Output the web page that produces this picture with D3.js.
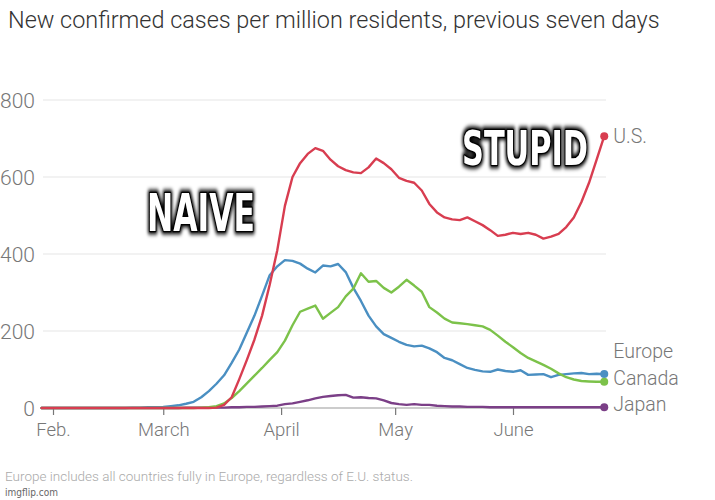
<!DOCTYPE html>
<html><head><meta charset="utf-8">
<script src="https://cdn.jsdelivr.net/npm/d3@7"></script>
<style>body{margin:0;background:#fff;} svg{display:block}</style>
</head><body>
<svg id="c" width="715" height="500"></svg>
<script>
// ---------- DATA ----------
const dates = [
"01-29","01-31","02-02","02-04","02-06","02-08","02-10","02-12","02-14","02-16","02-18","02-20","02-22","02-24","02-26","02-28",
"03-01","03-03","03-05","03-07","03-09","03-11","03-13","03-15","03-17","03-19","03-21","03-23","03-25","03-27","03-29","03-31",
"04-02","04-04","04-06","04-08","04-10","04-12","04-14","04-16","04-18","04-20","04-22","04-24","04-26","04-28","04-30",
"05-02","05-04","05-06","05-08","05-10","05-12","05-14","05-16","05-18","05-20","05-22","05-24","05-26","05-28","05-30",
"06-01","06-03","06-05","06-07","06-09","06-11","06-13","06-15","06-17","06-19","06-21","06-23","06-25"];

const usValues = [
0,0,0,0,0,0,0,0,0,0,0,0,0,0,0,0,
0,0,0,0,0,0,0,1,8,28,75,125,178,240,320,410,
525,600,636,660,675,668,645,628,618,612,610,625,648,636,620,
598,590,585,565,530,508,495,490,488,495,485,475,462,447,450,
455,452,455,450,440,445,452,470,495,535,585,645,706];

const europeValues = [
0,0,0,0,0,0,0,0,0,0,0,0,1,1,2,2,
3,5,7,11,16,28,44,63,85,117,152,196,240,292,345,368,
384,382,375,362,352,370,368,374,353,312,278,240,212,192,182,
172,164,160,162,155,145,130,124,114,104,99,95,94,100,96,
94,98,86,87,88,80,86,88,90,91,88,89,88];

const canadaValues = [
0,0,0,0,0,0,0,0,0,0,0,0,0,0,0,0,
0,0,0,0,0,1,2,5,12,26,44,64,84,104,125,145,
175,215,250,258,266,232,247,262,290,310,350,328,330,312,300,
315,333,318,302,262,248,232,222,220,218,215,212,203,188,172,
158,143,130,121,112,102,90,80,74,70,69,68,68];

const japanValues = [
0,0,0,0,0,0,0,0,0,0,0,0,0,0,0,0,
0,0,0,1,1,1,1,1,1,2,2,3,3,4,5,6,
10,12,16,20,25,29,31,33,34,27,28,26,25,20,13,
10,8,10,8,8,6,5,4,4,3,3,3,2,2,2,
2,2,2,2,2,2,2,2,2,2,2,2,2];

const seriesNames = ["U.S.", "Europe", "Canada", "Japan"];
const seriesColors = ["#d83d50", "#4a8fc2", "#7cc24a", "#7b3f87"];
const yTicks = [0, 200, 400, 600, 800];
const monthTicks = ["02-01", "03-01", "04-01", "05-01", "06-01"];
const monthLabels = ["Feb.", "March", "April", "May", "June"];
const titleText = "New confirmed cases per million residents, previous seven days";
const noteText = "Europe includes all countries fully in Europe, regardless of E.U. status.";
const watermarkText = "imgflip.com";
const memeTexts = ["NAIVE", "STUPID"];

// ---------- DRAW ----------
const parse = d3.timeParse("%Y-%m-%d");
const P = s => parse("2020-" + s);
const svg = d3.select("#c");
const FONT = "Roboto, 'Noto Sans', sans-serif";

const x = d3.scaleTime().domain([P("02-01"), P("06-01")]).range([53, 513]);
const y = d3.scaleLinear().domain([0, 800]).range([408, 100]);
const gridX0 = 43, gridX1 = 606;

// title
const title = svg.append("text").attr("x", 8).attr("y", 28)
  .attr("font-family", FONT).attr("font-weight", 300)
  .attr("font-size", 22).attr("fill", "#333").text(titleText);
{ const w = title.node().getComputedTextLength(); title.attr("font-size", 22 * 652 / w); }

// gridlines
svg.append("g").selectAll("line").data(yTicks.filter(t => t > 0)).join("line")
  .attr("x1", gridX0).attr("x2", gridX1)
  .attr("y1", d => y(d)).attr("y2", d => y(d))
  .attr("stroke", "#e6e6e6").attr("stroke-width", 1.2);

// y labels
svg.append("g").selectAll("text").data(yTicks).join("text")
  .attr("x", 35).attr("y", d => y(d)).attr("dy", "0.36em")
  .attr("text-anchor", "end")
  .attr("font-family", FONT).attr("font-weight", 300)
  .attr("font-size", 21).attr("fill", "#777").text(d => d3.format("d")(d));

// x axis
const xAxis = d3.axisBottom(x).tickValues(monthTicks.map(P))
  .tickFormat((d, i) => monthLabels[i]).tickSize(7).tickPadding(8).tickSizeOuter(0);
const gx = svg.append("g").attr("transform", `translate(0,${y(0)})`).call(xAxis);
gx.select(".domain").remove();
gx.insert("line", ":first-child").attr("x1", gridX0).attr("x2", gridX1)
  .attr("stroke", "#999").attr("stroke-width", 1.2);
gx.selectAll(".tick line").attr("stroke", "#777").attr("stroke-width", 1.2);
gx.selectAll(".tick text").attr("font-family", FONT)
  .attr("font-weight", 300).attr("font-size", 18.5).attr("fill", "#777");

// series
const allValues = [usValues, europeValues, canadaValues, japanValues];
const dateObjs = dates.map(P);
const line = d3.line().x((d, i) => x(dateObjs[i])).y(d => y(d));
const drawOrder = [3, 1, 2, 0];
const gl = svg.append("g");
drawOrder.forEach(k => {
  gl.append("path").attr("d", line(allValues[k])).attr("fill", "none")
    .attr("stroke", seriesColors[k]).attr("stroke-width", 2.4)
    .attr("stroke-linejoin", "round").attr("stroke-linecap", "round");
});
const lastDate = dateObjs[dateObjs.length - 1];
drawOrder.forEach(k => {
  const v = allValues[k][allValues[k].length - 1];
  gl.append("circle").attr("cx", x(lastDate)).attr("cy", y(v)).attr("r", 4)
    .attr("fill", seriesColors[k]);
});

// end labels
const labelDy = [7, -16, 3, 4];
seriesNames.forEach((name, k) => {
  const v = allValues[k][allValues[k].length - 1];
  svg.append("text").attr("x", x(lastDate) + 9).attr("y", y(v) + labelDy[k])
    .attr("font-family", FONT).attr("font-weight", 300)
    .attr("font-size", 19.5).attr("fill", "#777").text(name);
});

// footnote
svg.append("text").attr("x", 5).attr("y", 481)
  .attr("font-family", FONT).attr("font-weight", 300)
  .attr("font-size", 13.5).attr("fill", "#aaa").text(noteText);
svg.append("text").attr("x", 5).attr("y", 496)
  .attr("font-family", "'DejaVu Sans Condensed', 'Liberation Sans', sans-serif")
  .attr("font-size", 10).attr("fill", "#666").text(watermarkText);

// meme captions
const defs = svg.append("defs");
const f = defs.append("filter").attr("id", "sh").attr("x", "-30%").attr("y", "-30%")
  .attr("width", "160%").attr("height", "160%");
f.append("feMorphology").attr("in", "SourceAlpha").attr("operator", "dilate").attr("radius", 2).attr("result", "d");
f.append("feGaussianBlur").attr("in", "d").attr("stdDeviation", 2).attr("result", "b");
const fm = f.append("feMerge");
fm.append("feMergeNode").attr("in", "b");
fm.append("feMergeNode").attr("in", "SourceGraphic");

const memeBoxes = [{cx: 201, base: 231, w: 108, cap: 37}, {cx: 525, base: 165, w: 126, cap: 35}];
memeTexts.forEach((t, i) => {
  const b = memeBoxes[i];
  const g = svg.append("g").attr("filter", "url(#sh)");
  const tx = g.append("text").attr("x", 0).attr("y", 0).attr("text-anchor", "middle")
    .attr("font-family", "'DejaVu Sans Condensed', 'DejaVu Sans', sans-serif")
    .attr("font-weight", "bold").attr("font-size", 50)
    .attr("fill", "#fff").attr("stroke", "#000").attr("stroke-width", 2.5)
    .attr("paint-order", "stroke").attr("stroke-linejoin", "round").text(t);
  const w = tx.node().getComputedTextLength();
  const sx = b.w / w, sy = b.cap / (0.729 * 50);
  g.attr("transform", `translate(${b.cx},${b.base}) scale(${sx},${sy})`);
});
</script>
</body></html>
